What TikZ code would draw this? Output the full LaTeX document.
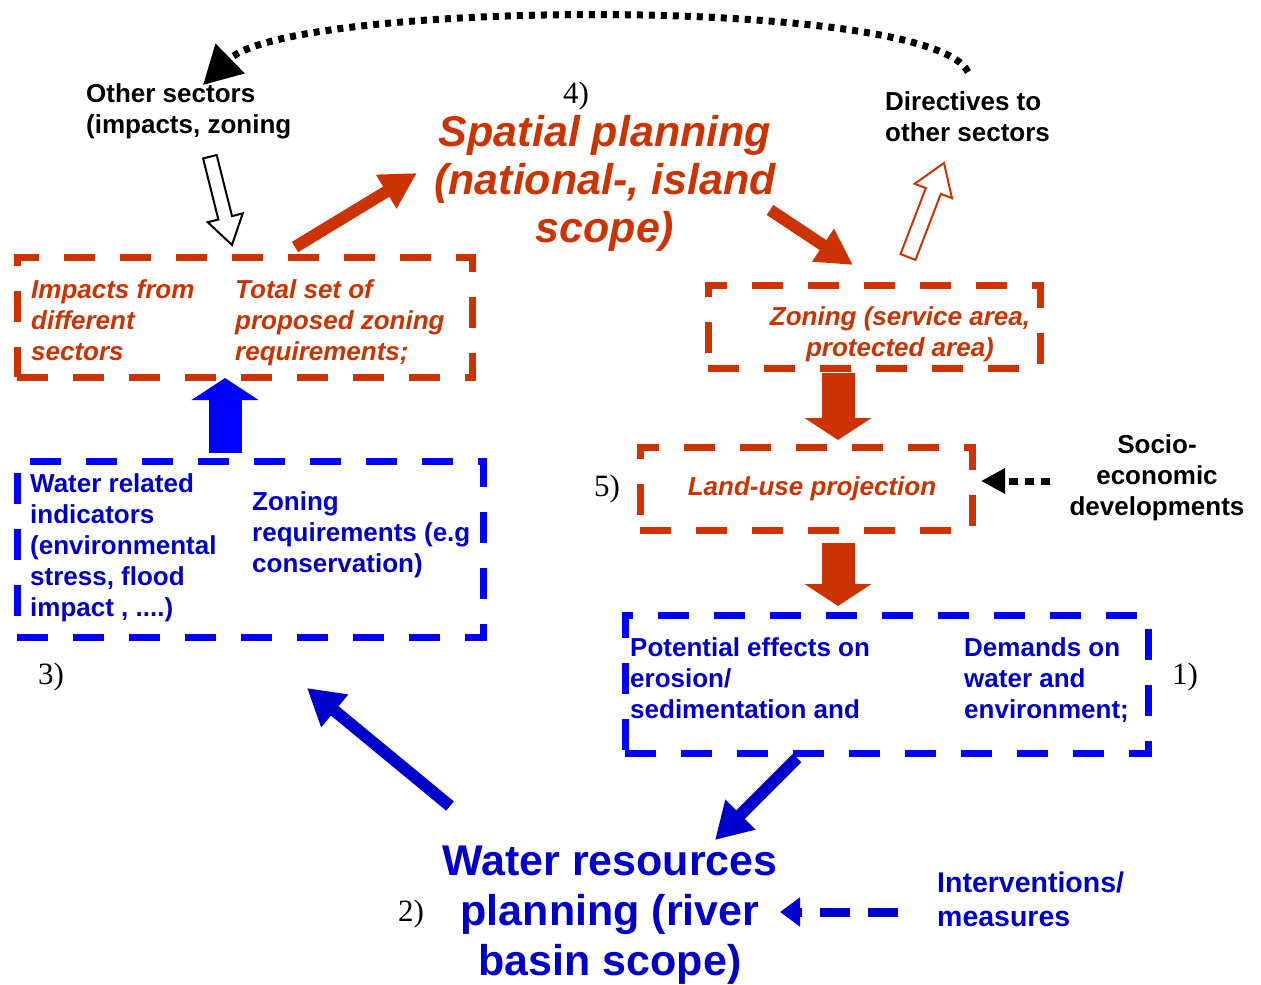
\documentclass[tikz,border=0pt]{standalone}
\usepackage{fontspec}
\setmainfont{Liberation Sans}
\newfontfamily\numfont{Liberation Serif}
\usetikzlibrary{arrows.meta}
\definecolor{myred}{RGB}{204,51,0}
\definecolor{boxblue}{RGB}{0,0,255}
\definecolor{txtblue}{RGB}{0,0,204}
\begin{document}
\begin{tikzpicture}[x=1pt,y=-1pt,
  lbl/.style={inner sep=0pt, anchor=north west, align=left, font=\bfseries\fontsize{26}{31}\selectfont},
  redlbl/.style={lbl, text=myred, font=\bfseries\itshape\fontsize{26}{31}\selectfont},
  bluelbl/.style={lbl, text=txtblue},
  numlbl/.style={inner sep=0pt, anchor=base west, font=\numfont\fontsize{31}{31}\selectfont},
  redbox/.style={draw=myred, line width=7pt, dash pattern=on 31pt off 25pt, inner sep=0pt},
  bluebox/.style={draw=boxblue, line width=7pt, dash pattern=on 31pt off 25pt, inner sep=0pt},
  thickred/.style={draw=myred, line width=12pt, -{Triangle[length=36pt,width=37pt]}},
  thickblue/.style={draw=txtblue, line width=12pt, -{Triangle[length=36pt,width=40pt]}},
  blockarrow/.style={line width=33pt, -{Triangle[length=22pt,width=66pt]}},
  hollow/.style={line width=2pt, fill=white, line join=miter}
]
\useasboundingbox (0,0) rectangle (1261,985);

% ---------- boxes ----------
\node[redbox, minimum width=455pt, minimum height=120pt] (box1) at (244.5,317) {};
\node[bluebox, minimum width=466pt, minimum height=176pt] (box2) at (250,549) {};
\node[redbox, minimum width=332pt, minimum height=83pt] (zonebox) at (874,326.5) {};
\node[redbox, minimum width=332pt, minimum height=83pt] (landbox) at (806,488.5) {};
\node[bluebox, minimum width=523pt, minimum height=138pt] (box3) at (886.5,684) {};

% ---------- texts ----------
\node[lbl] (other) at (86,83) {Other sectors\\(impacts, zoning};
\node[numlbl] (n4) at (563,103) {4)};
\node[inner sep=0pt, anchor=north, align=center, text=myred,
      font=\bfseries\itshape\fontsize{43}{48}\selectfont] (spatial) at (605,115)
      {Spatial planning\\(national-, island\\scope)};
\node[lbl] (direct) at (885,91) {Directives to\\other sectors};

\node[redlbl] (impacts) at (31,279) {Impacts from\\different\\sectors};
\node[redlbl] (total) at (235,279) {Total set of\\proposed zoning\\requirements;};

\node[bluelbl] (wri) at (30,473) {Water related\\indicators\\(environmental\\stress, flood\\impact , ....)};
\node[bluelbl] (zreq) at (252,491) {Zoning\\requirements (e.g\\conservation)};
\node[numlbl] (n3) at (38,684) {3)};

\node[redlbl, anchor=north, align=center] (zoning) at (900,306) {Zoning (service area,\\protected area)};
\node[redlbl, anchor=base] (landuse) at (812,495) {Land-use projection};
\node[numlbl] (n5) at (594,496) {5)};
\node[lbl, anchor=north, align=center] (socio) at (1157,434) {Socio-\\economic\\developments};

\node[bluelbl] (potential) at (630,637) {Potential effects on\\erosion/\\sedimentation and};
\node[bluelbl] (demands) at (964,637) {Demands on\\water and\\environment;};
\node[numlbl] (n1) at (1172,684) {1)};

\node[inner sep=0pt, anchor=north, align=center, text=txtblue,
      font=\bfseries\fontsize{43}{50}\selectfont] (water) at (610,846)
      {Water resources\\planning (river\\basin scope)};
\node[numlbl] (n2) at (398,921) {2)};
\node[lbl, text=txtblue, font=\bfseries\fontsize{28.5}{34}\selectfont] (interv) at (937,872) {Interventions/\\measures};

% ---------- connector end points ----------
\coordinate (dotS) at (968,72);
\coordinate (dotE) at (203,85);
\coordinate (r1S) at (295,247);
\coordinate (r1E) at (417,173);
\coordinate (r2S) at (770,210);
\coordinate (r2E) at (853,265);
\coordinate (buS) at (225,453);
\coordinate (buE) at (225,378);
\coordinate (rd1S) at (838,373);
\coordinate (rd1E) at (838,440);
\coordinate (rd2S) at (838,543);
\coordinate (rd2E) at (838,606);
\coordinate (seS) at (1050,481);
\coordinate (seE) at (981,481);
\coordinate (b1S) at (450,806);
\coordinate (b1E) at (307,688);
\coordinate (b2S) at (797,758);
\coordinate (b2E) at (715,840);
\coordinate (ivS) at (898,912);
\coordinate (ivE) at (780,912);

% ---------- connectors ----------
\draw[line width=7pt, dash pattern=on 6pt off 6pt, -{Triangle[length=38pt,width=40pt]}]
  (dotS) .. controls (930,-5) and (290,0) .. (dotE);

% hollow black arrow
\draw[hollow, draw=black] (203.1,158.4) -- (218.4,219.5) -- (207.7,222.2) -- (232,245)
  -- (242.7,213.4) -- (232.0,216.1) -- (216.7,155.0) -- cycle;
% hollow red arrow
\draw[hollow, draw=myred] (900.5,254.1) -- (925.8,188.1) -- (914.6,183.8) -- (944,163)
  -- (952.0,198.2) -- (940.8,193.9) -- (915.5,259.9) -- cycle;

\draw[thickred] (r1S) -- (r1E);
\draw[thickred] (r2S) -- (r2E);
\draw[blockarrow, draw=boxblue] (buS) -- (buE);
\draw[blockarrow, draw=myred] (rd1S) -- (rd1E);
\draw[blockarrow, draw=myred] (rd2S) -- (rd2E);
\draw[line width=7pt, dash pattern=on 9pt off 7pt, -{Triangle[length=24pt,width=24pt]}] (seS) -- (seE);
\draw[thickblue] (b1S) -- (b1E);
\draw[thickblue] (b2S) -- (b2E);
\draw[draw=txtblue, line width=9pt, dash pattern=on 30pt off 18pt, -{Triangle[length=20pt,width=28pt]}] (ivS) -- (ivE);
\end{tikzpicture}
\end{document}
